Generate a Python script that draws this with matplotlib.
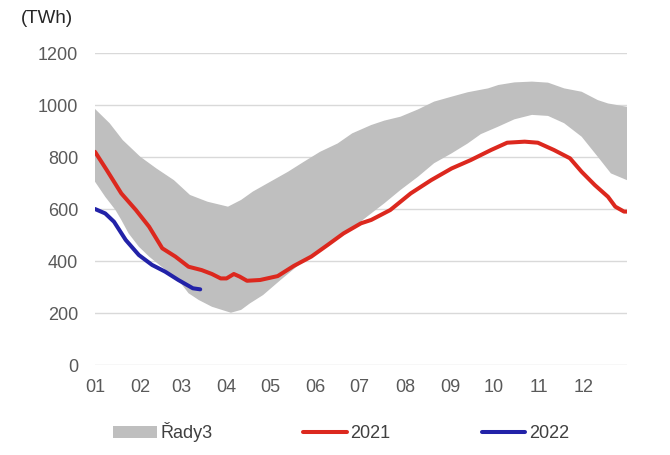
import matplotlib
matplotlib.use("Agg")
import matplotlib.pyplot as plt

plt.rcParams['font.family'] = ['Liberation Sans', 'DejaVu Sans']

# range of previous years (upper / lower edge), day of year -> TWh
band_hi_day = [0, 10, 19, 31, 42, 54, 65, 77, 91, 100, 108, 120, 132, 143, 154, 166, 176,
               189, 198, 209, 221, 232, 244, 255, 269, 276, 287, 299, 310, 321, 333, 344, 351, 364]
band_hi = [985, 930, 865, 801, 756, 711, 654, 628, 609, 635, 667, 705, 743, 782, 820, 852, 891,
           923, 940, 955, 983, 1013, 1032, 1049, 1064, 1077, 1087, 1090, 1086, 1064, 1051, 1019, 1006, 993]

band_lo_day = [0, 7, 14, 18, 23, 30, 37, 44, 57, 64, 71, 80, 93, 100, 106, 115, 127, 138, 150,
               161, 173, 186, 198, 209, 221, 232, 244, 255, 264, 276, 287, 299, 310, 321, 333, 344, 353, 364]
band_lo = [705, 647, 596, 558, 506, 455, 417, 385, 327, 276, 250, 224, 201, 212, 237, 269, 327, 378, 430,
           474, 513, 570, 622, 673, 724, 776, 814, 852, 888, 917, 945, 962, 958, 930, 878, 801, 737, 711]

days_2021 = [0, 8, 18, 28, 37, 46, 55, 64, 73, 80, 86, 90, 95, 99, 104, 113, 125, 136, 148, 159,
             170, 182, 189, 202, 216, 230, 244, 257, 271, 282, 294, 303, 314, 325, 333, 342, 351, 356, 362, 364]
vals_2021 = [820, 750, 660, 596, 532, 449, 417, 378, 365, 350, 333, 333, 350, 340, 324, 327, 342, 381, 417, 461,
             506, 545, 558, 596, 660, 711, 756, 788, 827, 855, 859, 855, 827, 795, 743, 692, 647, 609, 590, 590]

days_2022 = [0, 7, 13, 21, 30, 39, 48, 57, 67, 72]
vals_2022 = [600, 583, 551, 481, 423, 385, 359, 327, 295, 291]

month_start = [0, 31, 59, 90, 120, 151, 181, 212, 243, 273, 304, 334]
month_labels = ["01", "02", "03", "04", "05", "06", "07", "08", "09", "10", "11", "12"]

fig = plt.figure(figsize=(6.7, 4.55), dpi=100)
ax = fig.add_axes([0.1418, 0.1978, 0.794, 0.6857])

# band: polygon from upper edge forward and lower edge backward
poly_x = band_hi_day + band_lo_day[::-1]
poly_y = band_hi + band_lo[::-1]
ax.fill(poly_x, poly_y, color='#bfbfbf', lw=0, label='Řady3', zorder=2)

ax.plot(days_2021, vals_2021, color='#dc281e', lw=2.9, label='2021', zorder=3,
        solid_capstyle='round', solid_joinstyle='round')
ax.plot(days_2022, vals_2022, color='#2222a8', lw=2.9, label='2022', zorder=4,
        solid_capstyle='round', solid_joinstyle='round')

ax.set_xlim(0, 364)
ax.set_ylim(0, 1200)
ax.set_yticks(range(0, 1201, 200))
ax.set_xticks(month_start)
ax.set_xticklabels(month_labels)
ax.grid(axis='y', color='#d9d9d9', lw=1.0, zorder=0)
ax.set_axisbelow(True)
for s in ax.spines.values():
    s.set_visible(False)
ax.tick_params(axis='both', length=0, labelsize=13, labelcolor='#595959')
ax.tick_params(axis='y', pad=12)
ax.tick_params(axis='x', pad=10)

fig.text(0.031, 0.96, '(TWh)', fontsize=13.5, color='#262626', va='center', ha='left')

fig.legend(loc='center', bbox_to_anchor=(0.509, 0.05), ncol=3, frameon=False, fontsize=13,
           handlelength=2.4, handletextpad=0.2, columnspacing=5.05,
           labelcolor='#404040')

fig.savefig('out.png', dpi=100)
